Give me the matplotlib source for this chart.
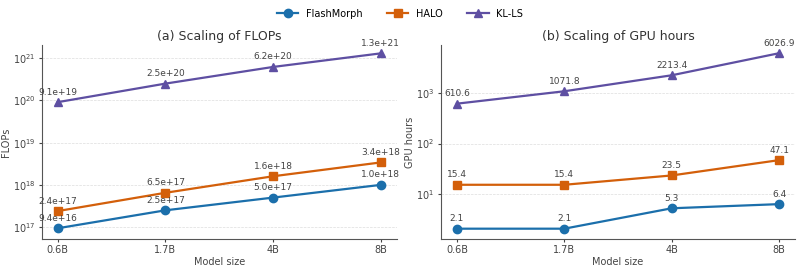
import matplotlib.pyplot as plt

sizes = ["0.6B", "1.7B", "4B", "8B"]
methods = ["FlashMorph", "HALO", "KL-LS"]
flops_flashmorph = [9.4e16, 2.5e17, 5.0e17, 1.0e18]
flops_halo = [2.4e17, 6.5e17, 1.6e18, 3.4e18]
flops_klls = [9.1e19, 2.5e20, 6.2e20, 1.3e21]
gpu_flashmorph = [2.1, 2.1, 5.3, 6.4]
gpu_halo = [15.4, 15.4, 23.5, 47.1]
gpu_klls = [610.6, 1071.8, 2213.4, 6026.9]

colors = ["#1b6fab", "#d35f0a", "#5e4fa2"]
markers = ["o", "s", "^"]

def panel(ax, series, title, ylabel, fmt, ylim):
	x = list(range(len(sizes)))
	lines = []
	for i in range(len(series)):
		ln, = ax.plot(x, series[i], color=colors[i], marker=markers[i], markersize=6,
			linewidth=1.6, label=methods[i])
		lines.append(ln)
		for xi, v in zip(x, series[i]):
			ax.annotate(fmt(v), (xi, v), xytext=(0, 4), textcoords='offset points',
				ha='center', va='bottom', fontsize=6.5, color='#444444')
	ax.set_yscale('log')
	ax.set_ylim(*ylim)
	ax.set_xlim(-0.15, 3.15)
	ax.set_xticks(x)
	ax.set_xticklabels(sizes)
	ax.set_title(title, fontsize=9, color='#333333', pad=4)
	ax.set_xlabel("Model size", fontsize=7, color='#444444', labelpad=1)
	ax.set_ylabel(ylabel, fontsize=7, color='#444444', labelpad=1)
	ax.tick_params(labelsize=7, colors='#444444', which='both', length=2.5, pad=2)
	ax.tick_params(which='minor', length=0)
	ax.grid(True, which='major', axis='y', linestyle='--', linewidth=0.5, color='#dddddd')
	ax.spines['top'].set_visible(False)
	ax.spines['right'].set_visible(False)
	for s in ['left', 'bottom']:
		ax.spines[s].set_color('#555555')
		ax.spines[s].set_linewidth(0.8)
	return lines

fig = plt.figure(figsize=(8, 2.7), dpi=100)
ax1 = fig.add_axes([0.052, 0.115, 0.444, 0.718])
ax2 = fig.add_axes([0.551, 0.115, 0.443, 0.718])

lines = panel(ax1, [flops_flashmorph, flops_halo, flops_klls], "(a) Scaling of FLOPs", "FLOPs",
	lambda v: "%.1e" % v, (10**16.72, 10**21.31))
panel(ax2, [gpu_flashmorph, gpu_halo, gpu_klls], "(b) Scaling of GPU hours", "GPU hours",
	lambda v: "%.1f" % v, (10**0.12, 10**3.94))

fig.legend(handles=lines, loc='upper center', ncol=3, frameon=False, fontsize=7,
	bbox_to_anchor=(0.5, 1.0), handlelength=2.2, columnspacing=2.5)

plt.savefig("out.png", dpi=100)
